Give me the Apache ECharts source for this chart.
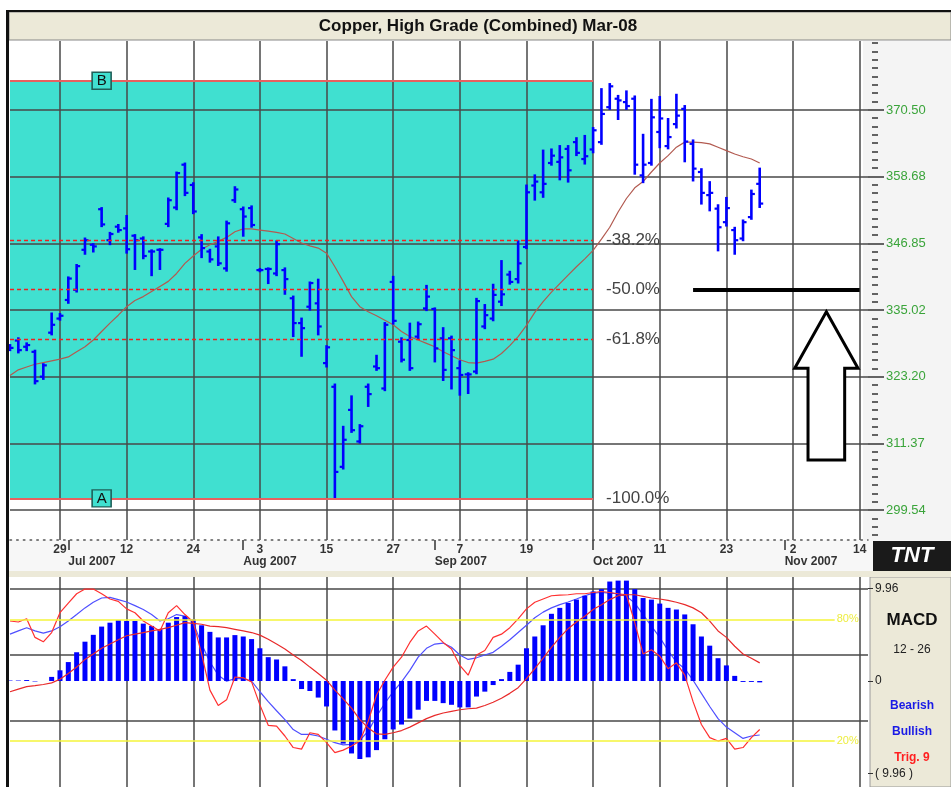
<!DOCTYPE html>
<html><head><meta charset="utf-8">
<script src="https://cdn.jsdelivr.net/npm/echarts@6/dist/echarts.min.js"></script>
<style>html,body{margin:0;padding:0;background:#fff}#c{width:951px;height:787px}</style>
</head><body><div id="c"></div>
<script>
const dates = ['2007-06-21','2007-06-22','2007-06-25','2007-06-26','2007-06-27','2007-06-28','2007-06-29',
'2007-07-02','2007-07-03','2007-07-05','2007-07-06','2007-07-09','2007-07-10','2007-07-11','2007-07-12','2007-07-13',
'2007-07-16','2007-07-17','2007-07-18','2007-07-19','2007-07-20','2007-07-23','2007-07-24','2007-07-25','2007-07-26','2007-07-27','2007-07-30','2007-07-31',
'2007-08-01','2007-08-02','2007-08-03','2007-08-06','2007-08-07','2007-08-08','2007-08-09','2007-08-10','2007-08-13','2007-08-14','2007-08-15','2007-08-16','2007-08-17','2007-08-20','2007-08-21','2007-08-22','2007-08-23','2007-08-24','2007-08-27','2007-08-28','2007-08-29','2007-08-30','2007-08-31',
'2007-09-04','2007-09-05','2007-09-06','2007-09-07','2007-09-10','2007-09-11','2007-09-12','2007-09-13','2007-09-14','2007-09-17','2007-09-18','2007-09-19','2007-09-20','2007-09-21','2007-09-24','2007-09-25','2007-09-26','2007-09-27','2007-09-28',
'2007-10-01','2007-10-02','2007-10-03','2007-10-04','2007-10-05','2007-10-08','2007-10-09','2007-10-10','2007-10-11','2007-10-12','2007-10-15','2007-10-16','2007-10-17','2007-10-18','2007-10-19','2007-10-22','2007-10-23','2007-10-24','2007-10-25','2007-10-26','2007-10-29','2007-10-30','2007-10-31',
'2007-11-01','2007-11-02','2007-11-05','2007-11-06','2007-11-07','2007-11-08','2007-11-09','2007-11-12','2007-11-13','2007-11-14','2007-11-15'];

const open  = [328.5,329.6,328.5,327.6,323.2,331.0,333.5,336.8,338.6,345.7,346.6,352.9,347.4,349.8,349.5,348.2,347.7,345.4,345.7,350.3,353.2,360.8,357.2,347.9,345.4,346.3,342.4,354.5,352.9,353.1,342.1,342.3,341.5,342.1,337.1,332.7,335.6,336.2,325.6,321.4,307.2,317.3,311.7,321.4,325.0,321.1,340.0,329.4,329.7,330.3,335.3,335.2,330.0,330.0,324.7,323.6,324.1,332.1,333.5,336.5,341.3,340.5,346.2,357.1,355.9,361.1,361.3,363.6,364.8,361.8,363.5,364.8,371.0,372.5,371.9,372.5,358.9,361.1,366.6,364.1,368.0,370.7,364.5,359.5,355.4,353.0,350.6,349.2,347.7,351.5,357.4];
const high  = [328.8,330.0,329.1,327.8,325.4,334.4,334.3,340.8,343.0,347.7,346.7,353.1,348.7,350.1,351.7,348.3,347.9,345.6,345.8,354.8,359.4,361.0,357.5,348.3,345.7,347.9,350.7,356.8,353.2,353.4,342.3,342.4,347.2,342.4,337.4,333.5,339.9,340.4,328.6,321.8,314.3,319.7,314.6,321.8,326.9,332.7,340.9,330.0,332.6,332.8,339.3,335.3,331.8,330.3,325.9,323.8,337.0,335.9,339.5,343.7,341.8,347.2,357.1,358.9,363.3,363.5,364.1,364.1,365.5,365.9,367.3,374.2,375.1,373.0,373.8,372.9,366.1,372.3,372.8,368.9,373.2,371.2,365.1,360.0,357.7,353.6,354.9,349.6,350.9,356.2,360.1];
const low   = [327.9,327.5,327.9,322.0,322.8,330.7,333.3,336.3,338.3,345.0,345.4,349.9,346.7,348.9,345.2,342.3,344.2,341.2,342.3,349.9,352.9,355.4,352.2,344.4,343.6,343.0,342.0,354.2,348.2,349.8,341.9,339.8,341.2,337.9,330.4,326.9,335.1,330.7,325.0,301.6,306.9,313.4,311.5,318.0,324.4,320.8,332.6,325.9,324.4,330.0,335.0,325.9,322.6,321.1,320.0,320.3,323.8,331.8,333.2,335.9,339.7,339.9,346.0,354.6,355.1,360.8,358.2,357.8,362.5,361.0,363.0,364.5,370.7,368.9,370.7,359.2,357.7,360.8,363.9,363.7,367.4,361.4,358.0,353.9,352.7,345.6,350.0,345.0,347.4,351.2,353.3];
const close = [328.3,327.9,328.8,322.4,325.2,332.4,334.0,340.6,342.8,347.4,346.3,350.2,348.5,349.2,345.8,347.4,344.6,345.4,345.7,354.5,359.3,355.8,352.5,346.0,344.0,343.3,350.4,356.4,351.6,350.1,342.1,342.3,346.7,340.5,332.7,331.8,339.8,332.1,328.4,306.3,312.0,313.7,314.4,320.1,324.7,332.4,333.1,326.2,324.7,332.5,337.4,328.2,324.4,327.9,323.5,323.6,336.6,334.1,337.7,337.8,340.0,343.3,355.9,357.8,357.4,362.4,362.1,359.8,362.9,362.3,366.9,369.8,374.7,372.2,371.2,360.8,360.8,369.2,369.0,365.7,369.5,364.9,360.1,355.8,355.8,349.7,353.1,347.4,350.6,355.6,353.9];
const movingAvg = [323.4,324.4,324.9,325.4,325.7,326.0,326.3,326.7,327.6,328.5,329.7,331.2,332.7,334.1,335.6,336.7,337.4,338.3,339.2,340.1,341.5,343.3,344.6,345.8,346.6,347.2,347.9,348.9,349.4,349.4,349.2,349.0,348.8,348.5,347.7,346.9,346.4,346.0,345.1,342.7,340.1,337.4,335.6,334.7,334.0,333.2,332.4,331.2,330.3,329.7,329.1,328.5,327.6,326.9,326.2,325.7,325.6,325.9,326.3,327.3,328.7,330.3,332.3,334.6,336.5,338.2,339.7,341.2,342.7,344.1,345.6,347.6,349.7,352.4,354.8,356.7,357.8,359.5,361.1,362.4,363.9,364.8,364.8,364.7,364.5,363.9,363.3,362.7,362.2,361.8,361.1];

const macdHist = [0.05,0.05,0.1,-0.05,0.0,0.44,1.15,2.04,3.10,4.24,4.98,5.87,6.29,6.58,6.47,6.47,6.19,5.94,5.59,6.29,6.90,7.00,6.65,6.01,5.30,4.70,4.70,4.95,4.80,4.52,3.53,2.57,2.32,1.58,0.2,-0.87,-1.08,-1.79,-2.75,-5.34,-6.76,-7.82,-8.42,-8.24,-7.46,-6.29,-5.23,-4.70,-4.06,-3.10,-2.15,-2.15,-2.39,-2.57,-2.85,-2.85,-1.68,-1.15,-0.44,0.2,0.98,1.76,3.53,4.80,6.01,7.25,7.89,8.42,8.78,9.20,9.66,9.91,10.73,10.83,10.83,9.91,8.95,8.78,8.35,7.89,7.71,7.18,6.12,4.80,3.81,2.46,1.68,0.55,-0.1,-0.1,-0.15];
const lineBlue = [72.7,74.3,75.9,74.3,73.2,74.3,76.4,79.2,82.4,85.7,88.5,90.6,90.9,89.8,88.6,86.8,84.9,82.4,79.2,80.3,82.4,81.6,78.4,67.8,58.9,52.4,49.4,50.7,50.7,49.4,44.2,39.3,34.8,30.4,25.5,23.1,23.1,22.3,20.7,19.0,17.9,18.2,20.2,24.7,32.0,38.5,44.2,49.1,54.8,61.3,65.7,67.8,68.3,66.2,62.4,60.2,61.0,62.4,63.7,66.7,69.9,73.5,77.1,80.8,83.6,85.7,87.3,88.6,90.1,91.7,93.0,93.3,93.0,92.7,91.4,88.1,82.4,76.7,71.1,64.6,58.9,55.6,49.9,43.4,36.9,30.9,26.7,23.9,21.1,22.3,22.8];
const lineRedFast = [79.2,78.7,80.3,71.1,68.9,73.5,83.3,88.1,92.7,95.0,95.0,92.7,90.1,88.9,85.2,83.3,79.2,76.7,74.3,83.3,86.8,82.4,78.7,62.9,45.0,37.4,40.2,51.5,51.1,49.1,37.7,27.6,27.2,22.3,16.6,15.8,23.9,23.1,19.0,14.1,15.3,17.4,19.8,29.6,42.6,49.9,56.4,61.3,68.6,74.3,76.7,72.7,68.6,65.4,57.2,52.4,62.4,64.6,71.1,72.7,75.9,80.3,85.2,88.5,90.1,91.7,92.0,92.2,92.7,92.7,93.3,93.8,93.3,92.7,92.2,78.4,62.9,65.0,61.8,55.6,58.5,52.4,39.3,28.0,21.5,19.8,21.1,15.8,16.6,21.5,25.5];
const lineRedSlow = [44.2,45.5,46.7,47.2,47.8,48.6,50.4,53.2,56.4,60.2,62.9,65.7,67.8,69.9,71.9,72.7,73.5,74.3,75.1,75.9,77.1,78.4,78.0,77.6,76.7,76.4,75.9,75.1,74.3,73.5,72.2,70.2,67.8,65.4,62.4,59.7,56.4,53.2,49.9,45.0,40.7,36.1,30.4,26.3,23.4,23.1,23.9,25.0,26.7,28.8,30.9,32.5,33.7,34.5,35.3,35.8,36.1,37.4,39.0,41.0,43.4,46.2,50.7,55.6,60.8,66.2,71.1,75.4,78.7,81.6,84.9,87.3,89.8,91.7,92.2,92.2,91.4,90.6,90.1,89.4,88.5,87.3,85.7,83.3,79.2,74.3,71.1,66.7,62.9,60.8,58.5];

const priceTicks = [299.54,311.37,323.20,335.02,346.85,358.68,370.50];
const macdLabelTicks = [9.96, 0, -9.96];
const macdGridTicks = [9.96, 2.82, -4.31];
const stochLevels = [80, 20];
const fibA = 301.6, fibB = 375.7;
const fibLevels = [['-38.2%', 347.4], ['-50.0%', 338.65], ['-61.8%', 329.9]];
const boxEndIdx = 70;
const dayLabelStart = 6, dayLabelStep = 8;
const monthNames = ['Jan','Feb','Mar','Apr','May','Jun','Jul','Aug','Sep','Oct','Nov','Dec'];

const FONT = 'Liberation Sans, Arial, sans-serif';
const mon = d => +d.slice(5,7);
const isMonthStart = i => i > 0 && mon(dates[i]) !== mon(dates[i-1]);
const isDayTick = i => i >= dayLabelStart && (i - dayLabelStart) % dayLabelStep === 0;

// minor ticks (8 per major interval)
const step = priceTicks[1] - priceTicks[0];
const minorTicks = [];
for (let k = -8; k <= 8 * (priceTicks.length) + 8; k++) minorTicks.push(+(priceTicks[0] + k * step / 8).toFixed(3));

const chart = echarts.init(document.getElementById('c'));
const gridLine = {color: '#484848', width: 1.5};

const option = {
  animation: false,
  backgroundColor: '#fff',
  grid: [
    {left: 10, right: 83, top: 41, height: 499},
    {left: 10, right: 83, top: 577, height: 213}
  ],
  xAxis: [
    {type: 'category', gridIndex: 0, data: dates, boundaryGap: false, z: 1,
     axisLine: {show: true, onZero: false, lineStyle: {color: '#555', width: 1.5, type: [1.5, 5.2]}},
     axisTick: {show: false},
     axisLabel: {interval: (i) => isDayTick(i), formatter: (v, i) => (isMonthStart(i) ? '' : String(+v.slice(8))),
       color: '#333', fontFamily: FONT, fontWeight: 'bold', fontSize: 12, margin: 4},
     splitLine: {show: true, interval: (i) => isDayTick(i), lineStyle: gridLine}},
    {type: 'category', gridIndex: 0, data: dates, boundaryGap: false, position: 'bottom', z: 1,
     axisLine: {show: false, onZero: false},
     axisTick: {show: true, interval: (i) => isMonthStart(i), length: 10, lineStyle: {color: '#333', width: 1.5}},
     axisLabel: {interval: (i) => isMonthStart(i), formatter: (v) => monthNames[mon(v)-1] + ' ' + v.slice(0,4),
       align: 'left', color: '#333', fontFamily: FONT, fontWeight: 'bold', fontSize: 12, margin: 16},
     splitLine: {show: false}},
    {type: 'category', gridIndex: 1, data: dates, boundaryGap: false, z: 1,
     axisLine: {show: false, onZero: false}, axisTick: {show: false}, axisLabel: {show: false},
     splitLine: {show: true, interval: (i) => isDayTick(i), lineStyle: gridLine}}
  ],
  yAxis: [
    {type: 'value', gridIndex: 0, position: 'right', min: 294.22, max: 382.74, z: 1,
     axisLine: {show: false},
     axisTick: {show: true, customValues: priceTicks, length: 16, lineStyle: {color: '#333', width: 1.5}},
     axisLabel: {customValues: priceTicks, formatter: v => v.toFixed(2), color: '#3AA43A', fontFamily: FONT, fontSize: 13, margin: 18},
     splitLine: {show: true, lineStyle: gridLine}},
    {type: 'value', gridIndex: 0, position: 'right', offset: 4, min: 294.22, max: 382.74, z: 1,
     axisLine: {show: false},
     axisTick: {show: true, customValues: minorTicks, length: 6, lineStyle: {color: '#333', width: 1.5}},
     axisLabel: {show: false}, splitLine: {show: false}},
    {type: 'value', gridIndex: 1, position: 'right', min: -11.44, max: 11.22, z: 1,
     axisLine: {show: false},
     axisTick: {show: true, customValues: macdLabelTicks, length: 5, lineStyle: {color: '#333'}},
     axisLabel: {customValues: macdLabelTicks, color: '#222', fontFamily: FONT, fontSize: 12, margin: 7,
       formatter: v => v === 0 ? '0' : (v > 0 ? v.toFixed(2) : '( ' + Math.abs(v).toFixed(2) + ' )')},
     splitLine: {show: false}},
    {type: 'value', gridIndex: 1, position: 'right', min: -2.93, max: 100.98, show: false},
    {type: 'value', gridIndex: 1, position: 'right', min: -11.44, max: 11.22, z: 1,
     axisLine: {show: false}, axisTick: {show: false, customValues: macdGridTicks}, axisLabel: {show: false},
     splitLine: {show: true, lineStyle: gridLine}}
  ],
  series: [
    {type: 'custom', name: 'box', xAxisIndex: 0, yAxisIndex: 0, z: 0, silent: true,
     data: [[0, boxEndIdx, fibA, fibB]],
     renderItem: (params, api) => {
       const p1 = api.coord([api.value(0), api.value(3)]);
       const p2 = api.coord([api.value(1), api.value(2)]);
       return {type: 'rect', shape: {x: p1[0], y: p1[1], width: p2[0]-p1[0], height: p2[1]-p1[1]}, style: {fill: '#40E0D0'}};
     }},
    {type: 'line', name: 'MA', xAxisIndex: 0, yAxisIndex: 0, data: movingAvg, z: 3, symbol: 'none',
     lineStyle: {color: '#B25A50', width: 1.2},
     markLine: {symbol: 'none', silent: true, animation: false,
       label: {show: true, position: 'end', distance: 13, color: '#444', fontFamily: FONT, fontSize: 17},
       data: [
         [{coord: [0, fibB], lineStyle: {color: '#E86060', width: 2, type: 'solid'}, label: {show: false}}, {coord: [boxEndIdx, fibB]}],
         [{coord: [0, fibA], lineStyle: {color: '#E86060', width: 2, type: 'solid'}, label: {formatter: '-100.0%'}}, {coord: [boxEndIdx, fibA]}],
         ...fibLevels.map(f => [{coord: [0, f[1]], lineStyle: {color: '#F02020', width: 1.4, type: [4, 3]}, label: {formatter: f[0]}}, {coord: [boxEndIdx, f[1]]}]),
         [{coord: [82, fibLevels[1][1]], lineStyle: {color: '#000', width: 4, type: 'solid'}, label: {show: false}}, {coord: [102, fibLevels[1][1]]}]
       ]},
     markPoint: {silent: true, symbol: 'rect', symbolSize: [19, 17],
       itemStyle: {color: '#40E0D0', borderColor: '#1F5F58', borderWidth: 1.5},
       label: {show: true, color: '#111', fontFamily: FONT, fontSize: 15},
       data: [{coord: [11, fibB], label: {formatter: 'B'}}, {coord: [11, fibA], label: {formatter: 'A'}}]}},
    {type: 'custom', name: 'OHLC', xAxisIndex: 0, yAxisIndex: 0, z: 4, silent: true,
     data: open.map((o, i) => [i, o, high[i], low[i], close[i]]),
     renderItem: (params, api) => {
       const x = api.value(0);
       const o = api.coord([x, api.value(1)]);
       const h = api.coord([x, api.value(2)]);
       const l = api.coord([x, api.value(3)]);
       const c = api.coord([x, api.value(4)]);
       const st = {stroke: '#0000FF', lineWidth: 2.6};
       const tk = {stroke: '#0000FF', lineWidth: 2.2};
       return {type: 'group', children: [
         {type: 'line', shape: {x1: h[0], y1: h[1]-1, x2: l[0], y2: l[1]+1}, style: st},
         {type: 'line', shape: {x1: o[0]-3.5, y1: o[1], x2: o[0], y2: o[1]}, style: tk},
         {type: 'line', shape: {x1: c[0], y1: c[1], x2: c[0]+3.5, y2: c[1]}, style: tk}
       ]};
     }},
    {type: 'line', name: 'Bearish', xAxisIndex: 2, yAxisIndex: 3, data: lineBlue, z: 2, symbol: 'none',
     lineStyle: {color: '#4F4FFF', width: 1.2}},
    {type: 'bar', name: 'MACD', xAxisIndex: 2, yAxisIndex: 2, data: macdHist, z: 3, barWidth: 5,
     itemStyle: {color: '#0000FF'}},
    {type: 'line', name: 'Bullish', xAxisIndex: 2, yAxisIndex: 3, data: lineRedFast, z: 4, symbol: 'none',
     lineStyle: {color: '#FF3030', width: 1.2}},
    {type: 'line', name: 'Trig. 9', xAxisIndex: 2, yAxisIndex: 3, data: lineRedSlow, z: 4, symbol: 'none',
     lineStyle: {color: '#E82A2A', width: 1.2},
     markLine: {symbol: 'none', silent: true,
       lineStyle: {color: '#F5F53A', width: 1.6, type: 'solid'},
       label: {show: true, position: 'end', distance: 2, color: '#EDED40', fontFamily: FONT, fontSize: 11, formatter: p => p.data.name},
       data: stochLevels.map(v => [{coord: [0, v], name: v + '%'}, {coord: [99, v]}])}}
  ],
  graphic: [
    {type: 'rect', id: 'axisBg', z: 0, shape: {x: 863, y: 41, width: 88, height: 499}, style: {fill: '#F4F4F4'}},
    {type: 'rect', id: 'dateBg', z: 0, shape: {x: 9, y: 540, width: 942, height: 33}, style: {fill: '#F7F7F7'}},
    {type: 'rect', id: 'macdPanel', z: 0, shape: {x: 870, y: 577, width: 81, height: 210}, style: {fill: '#ECE9D8', stroke: '#999', lineWidth: 1}},
    {type: 'rect', id: 'sep', z: 20, shape: {x: 9, y: 571, width: 942, height: 6}, style: {fill: '#ECE9D8'}},
    {type: 'rect', id: 'titleBar', z: 20, shape: {x: 9, y: 12, width: 942, height: 28}, style: {fill: '#ECE9D8', stroke: '#888', lineWidth: 1}},
    {type: 'rect', id: 'topBorder', z: 20, shape: {x: 6, y: 10, width: 945, height: 2}, style: {fill: '#111'}},
    {type: 'rect', id: 'leftBorder', z: 20, shape: {x: 6, y: 10, width: 3, height: 777}, style: {fill: '#111'}},
    {type: 'text', id: 'title', z: 21, style: {x: 478, y: 26, text: 'Copper, High Grade (Combined) Mar-08', fill: '#111',
      font: 'bold 17px "Liberation Sans Narrow", "Arial Narrow", ' + FONT, textAlign: 'center', textVerticalAlign: 'middle'}},
    {type: 'rect', id: 'logoBg', z: 20, shape: {x: 873, y: 541, width: 78, height: 30}, style: {fill: '#1a1a1a'}},
    {type: 'text', id: 'logo', z: 21, style: {x: 912, y: 556, text: 'TNT', fill: '#fff', font: 'italic bold 22px ' + FONT, textAlign: 'center', textVerticalAlign: 'middle'}},
    {type: 'text', id: 't1', z: 21, style: {x: 912, y: 620, text: 'MACD', fill: '#111', font: 'bold 17px ' + FONT, textAlign: 'center', textVerticalAlign: 'middle'}},
    {type: 'text', id: 't2', z: 21, style: {x: 912, y: 650, text: '12 - 26', fill: '#222', font: '12px ' + FONT, textAlign: 'center', textVerticalAlign: 'middle'}},
    {type: 'text', id: 't3', z: 21, style: {x: 912, y: 706, text: 'Bearish', fill: '#1A1AE6', font: 'bold 12px ' + FONT, textAlign: 'center', textVerticalAlign: 'middle'}},
    {type: 'text', id: 't4', z: 21, style: {x: 912, y: 732, text: 'Bullish', fill: '#1A1AE6', font: 'bold 12px ' + FONT, textAlign: 'center', textVerticalAlign: 'middle'}},
    {type: 'text', id: 't5', z: 21, style: {x: 912, y: 758, text: 'Trig. 9', fill: '#FF2020', font: 'bold 12px ' + FONT, textAlign: 'center', textVerticalAlign: 'middle'}}
  ]
};
chart.setOption(option);

// up-arrow annotation, positioned in data space
const arrowDef = {tip: [98.0, 334.7], headL: 94.2, headR: 101.8, headVal: 324.7, shaftL: 95.8, shaftR: 100.2, baseVal: 308.4};
const pA = chart.convertToPixel({xAxisIndex: 0, yAxisIndex: 0}, [0, 300]);
const pB = chart.convertToPixel({xAxisIndex: 0, yAxisIndex: 0}, [100, 300]);
const stepX = (pB[0] - pA[0]) / 100;
const X = i => pA[0] + i * stepX;
const Y = v => chart.convertToPixel({yAxisIndex: 0}, v);
option.graphic.push({type: 'polygon', id: 'arrow', z: 15, shape: {points: [
  [X(arrowDef.tip[0]), Y(arrowDef.tip[1])], [X(arrowDef.headR), Y(arrowDef.headVal)], [X(arrowDef.shaftR), Y(arrowDef.headVal)],
  [X(arrowDef.shaftR), Y(arrowDef.baseVal)], [X(arrowDef.shaftL), Y(arrowDef.baseVal)], [X(arrowDef.shaftL), Y(arrowDef.headVal)],
  [X(arrowDef.headL), Y(arrowDef.headVal)]]}, style: {fill: '#fff', stroke: '#000', lineWidth: 3}});
chart.setOption(option, true);
</script></body></html>
